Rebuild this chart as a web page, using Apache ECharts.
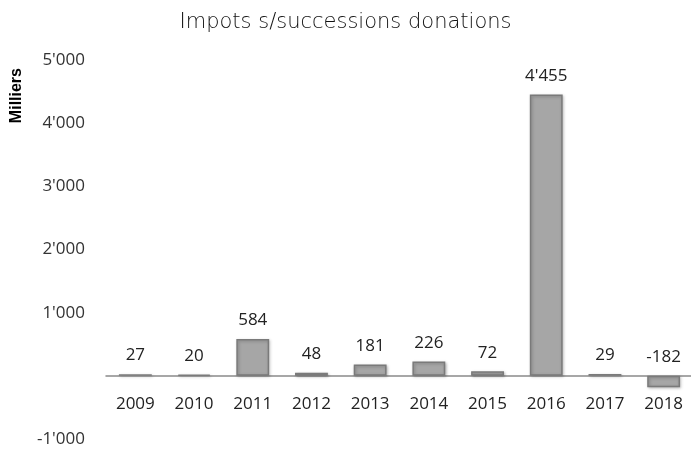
<!DOCTYPE html>
<html><head><meta charset="utf-8">
<script src="https://cdn.jsdelivr.net/npm/echarts@6/dist/echarts.min.js"></script>
<style>html,body{margin:0;padding:0;background:#fff}#c{width:691px;height:450px}</style>
</head><body><div id="c"></div>
<script>
var categories = ['2009','2010','2011','2012','2013','2014','2015','2016','2017','2018'];
var values = [27, 20, 584, 48, 181, 226, 72, 4455, 29, -182];
var titleText = 'Impots s/successions donations';
var axisName = 'Milliers';

function fmt(v){
  var s = Math.abs(v).toString().replace(/\B(?=(\d{3})+(?!\d))/g, "'");
  return (v < 0 ? '-' : '') + s;
}
var chart = echarts.init(document.getElementById('c'));
chart.setOption({
  animation: false,
  title: {text: titleText, left: 'center', top: 7,
    textStyle: {fontFamily: 'DejaVu Sans', fontWeight: 200, fontSize: 21, color: '#111'}},
  graphic: [{type: 'text', left: 9, top: 68, rotation: Math.PI/2,
    style: {text: axisName, font: 'bold 16px "Liberation Sans"', fill: '#000'}}],
  grid: {left: 106, right: -2, top: 60, bottom: 11, outerBoundsMode: 'none', containLabel: false},
  xAxis: {type: 'category', data: categories, offset: -63,
    axisLine: {onZero: false, lineStyle: {color: '#8a8a8a', width: 1.5}},
    axisTick: {show: false},
    axisLabel: {margin: 20, fontFamily: 'Open Sans', fontSize: 17, color: '#222'}},
  yAxis: {type: 'value', min: -1000, max: 5000, interval: 1000,
    axisLine: {show: false}, axisTick: {show: false}, splitLine: {show: false},
    axisLabel: {margin: 21, fontFamily: 'Open Sans', fontSize: 17, color: '#333',
      formatter: function(v){ return v === 0 ? '' : fmt(v); }}},
  series: [{type: 'bar', data: values, barWidth: '56%',
    itemStyle: {color: '#a6a6a6', borderColor: '#7a7a7a', borderWidth: 1.5,
      shadowColor: 'rgba(0,0,0,0.25)', shadowBlur: 3, shadowOffsetX: 1, shadowOffsetY: 1},
    label: {show: true, position: 'top', distance: 10, fontFamily: 'Open Sans', fontSize: 17, color: '#222',
      formatter: function(p){ return fmt(p.value); }}}]
});
</script></body></html>
